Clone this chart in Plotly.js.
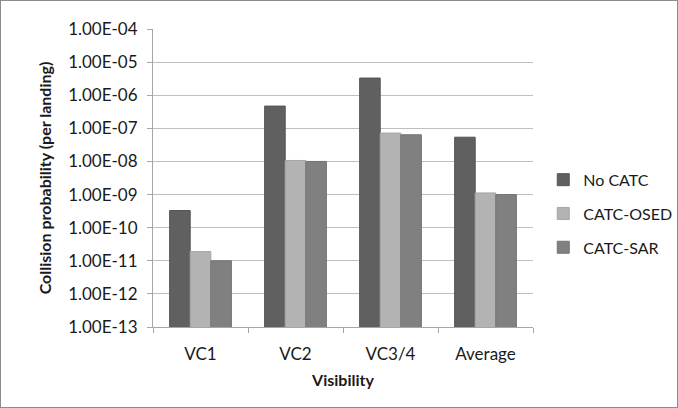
<!DOCTYPE html>
<html>
<head>
<meta charset="utf-8">
<script src="https://cdn.plot.ly/plotly-3.0.1.min.js"></script>
<style>
html,body{margin:0;padding:0;background:#fff;}
#chart{width:676px;height:406px;border:1px solid #8c8c8c;}
</style>
</head>
<body>
<div id="chart"></div>
<script>
const categories = ["VC1", "VC2", "VC3/4", "Average"];
const noCatc   = [3.3e-10, 4.7e-7, 3.3e-6, 5.4e-8];
const catcOsed = [1.9e-11, 1.07e-8, 7.2e-8, 1.12e-9];
const catcSar  = [1.0e-11, 1.0e-8, 6.4e-8, 1.0e-9];
const seriesNames = ["No CATC", "CATC-OSED", "CATC-SAR"];
const yTickVals = [1e-13, 1e-12, 1e-11, 1e-10, 1e-9, 1e-8, 1e-7, 1e-6, 1e-5, 1e-4];
const yTickText = ["1.00E-13", "1.00E-12", "1.00E-11", "1.00E-10", "1.00E-09", "1.00E-08", "1.00E-07", "1.00E-06", "1.00E-05", "1.00E-04"];

const colors = ["#606060", "#b3b3b3", "#808080"];
const lineColors = ["#555555", "#a6a6a6", "#747474"];
const seriesValues = [noCatc, catcOsed, catcSar];

const traces = seriesValues.map((vals, i) => ({
  type: "bar",
  name: seriesNames[i],
  x: categories,
  y: vals,
  legendgroup: "g" + i,
  marker: {color: colors[i], line: {color: lineColors[i], width: 1}},
  hoverinfo: "x+y+name"
}));

const font = "Lato, 'Open Sans', 'DejaVu Sans', sans-serif";
const txt = "#1a1a1a";
const layout = {
  width: 676, height: 406,
  margin: {l: 152, r: 144, t: 28, b: 80, pad: 0, autoexpand: false},
  paper_bgcolor: "#ffffff",
  plot_bgcolor: "#ffffff",
  barmode: "group",
  bargap: 0.35,
  bargroupgap: 0,
  font: {family: font, size: 16, color: txt},
  xaxis: {
    type: "category",
    showline: true, linecolor: "#a6a6a6", linewidth: 1,
    ticks: "outside", tickson: "boundaries", ticklen: 5, tickcolor: "#a6a6a6",
    showgrid: false,
    ticklabelstandoff: 12,
    tickfont: {family: font, size: 17, color: txt},
    title: {text: "<b>Visibility</b>", font: {family: font, size: 16, color: txt}, standoff: 11},
    fixedrange: true
  },
  yaxis: {
    type: "log",
    range: [-13, -4],
    tickvals: yTickVals,
    ticktext: yTickText,
    showline: true, linecolor: "#a6a6a6", linewidth: 1,
    ticks: "outside", ticklen: 5, tickcolor: "#a6a6a6",
    showgrid: true, gridcolor: "#bfbfbf", gridwidth: 1,
    zeroline: false,
    ticklabelstandoff: 6,
    tickfont: {family: font, size: 17, color: txt},
    title: {text: "<b>Collision probability (per landing)</b>", font: {family: font, size: 16, color: txt}, standoff: 12},
    fixedrange: true
  },
  showlegend: true,
  legend: {
    x: 1.027, xanchor: "left", y: 0.38, yanchor: "middle",
    traceorder: "grouped", tracegroupgap: 10,
    font: {family: font, size: 16, color: txt},
    bgcolor: "rgba(0,0,0,0)", itemwidth: 30
  }
};

Plotly.newPlot("chart", traces, layout, {displayModeBar: false, staticPlot: true});
</script>
</body>
</html>
